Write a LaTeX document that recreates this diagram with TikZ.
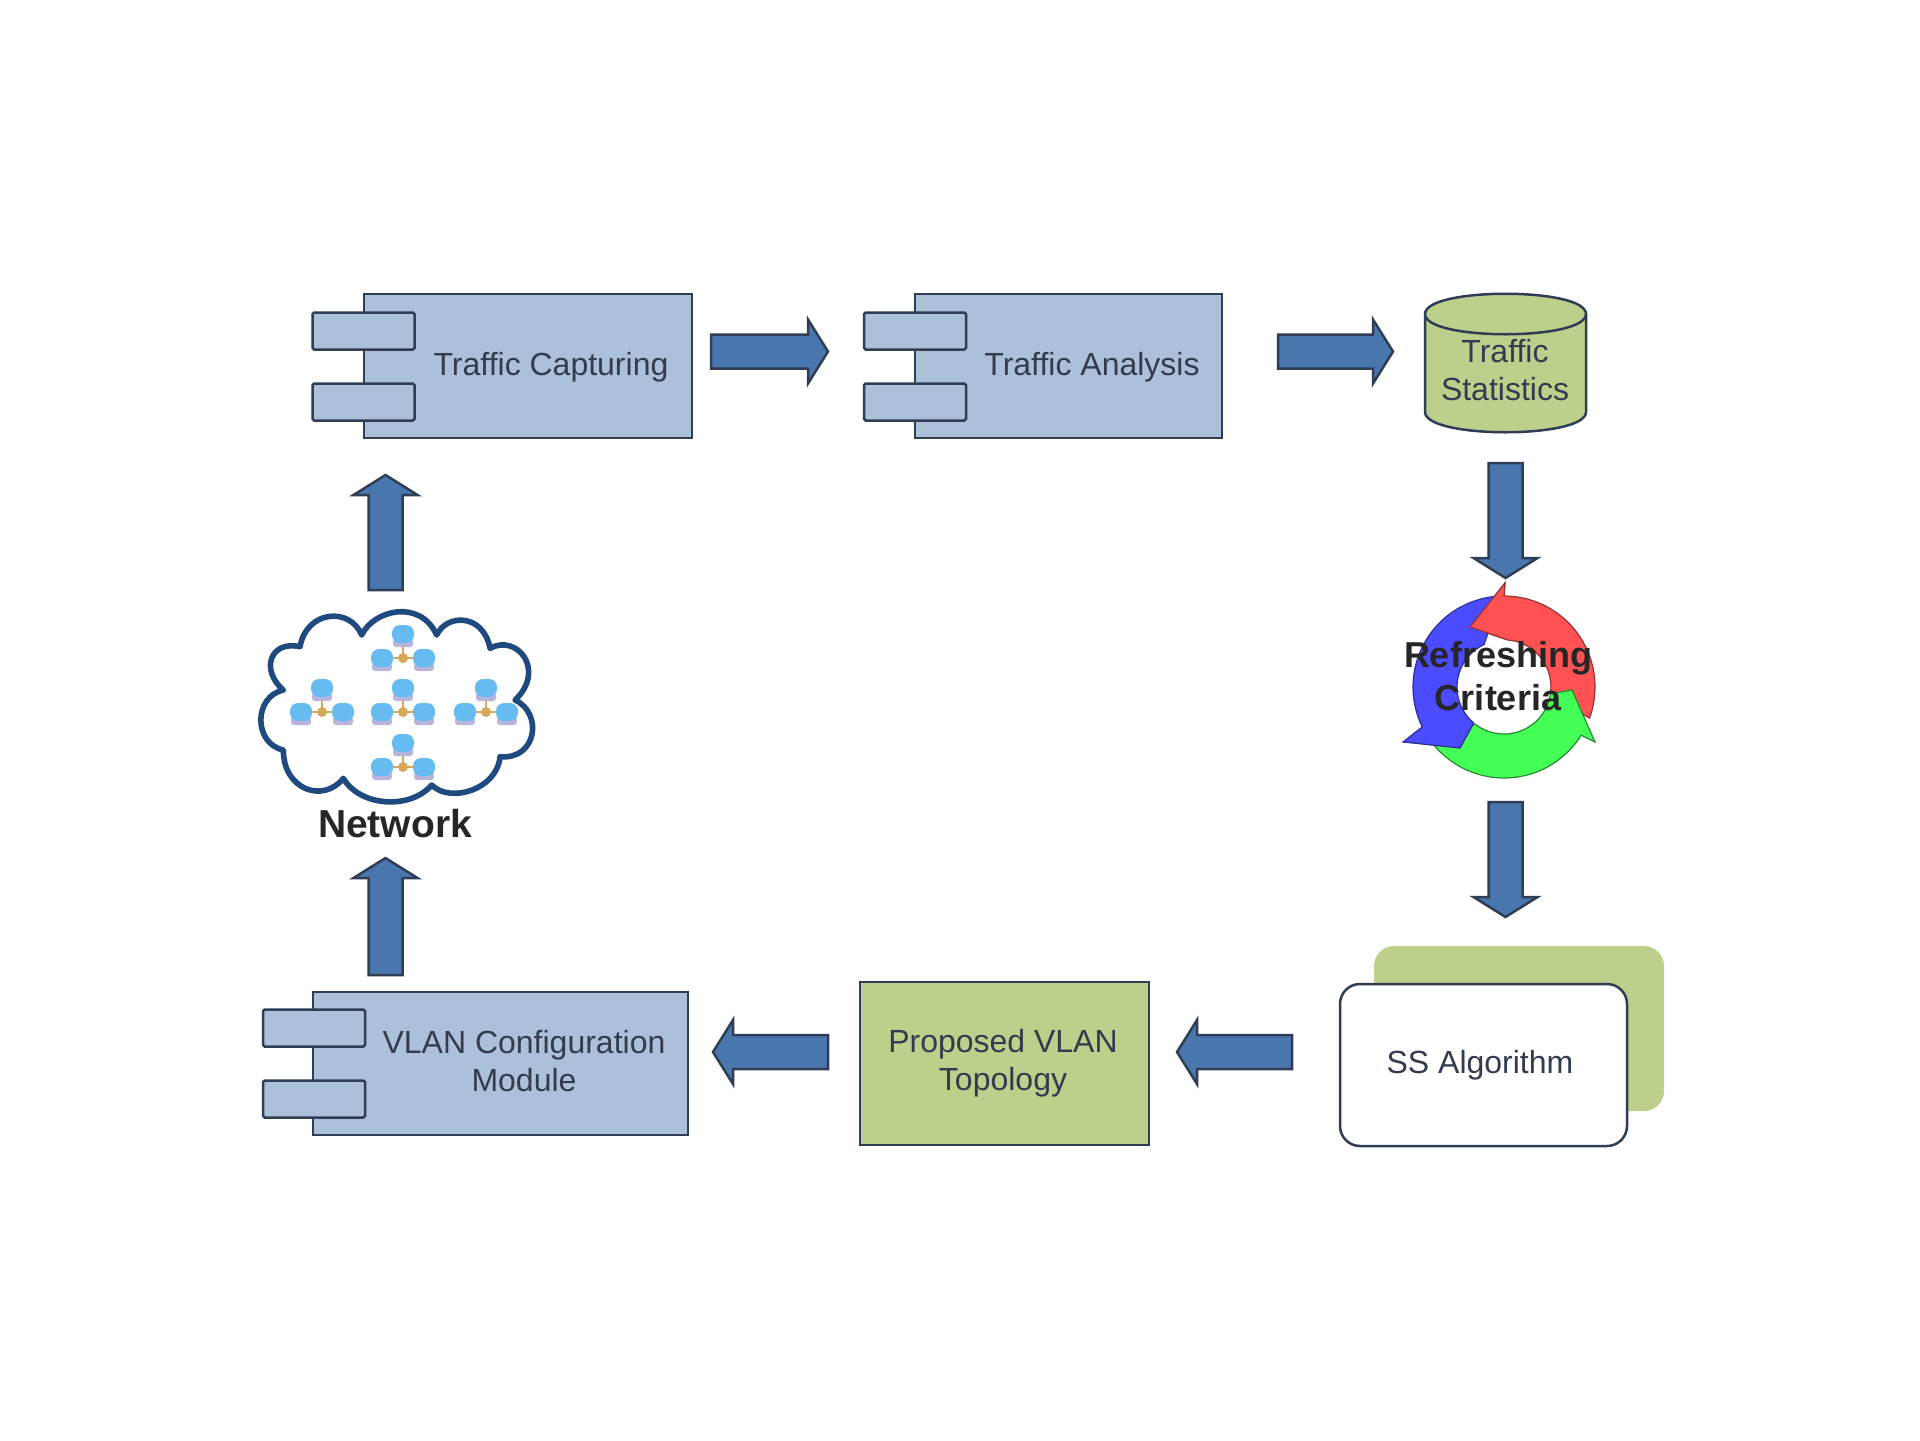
\documentclass[tikz,border=0pt]{standalone}
\usepackage{fontspec}
\setmainfont{Liberation Sans}
\usetikzlibrary{calc}
\definecolor{edgeink}{HTML}{303E55}
\definecolor{compblue}{HTML}{ADC0DA}
\definecolor{flowblue}{HTML}{4A76AE}
\definecolor{leafgreen}{HTML}{BCD08C}
\definecolor{cloudink}{HTML}{1F4A80}
\definecolor{labelink}{HTML}{323C4E}
\definecolor{cycred}{HTML}{FF5252}
\definecolor{cycgreen}{HTML}{44FF55}
\definecolor{cycblue}{HTML}{4B4BFF}
\definecolor{pcblue}{HTML}{66BBF0}
\definecolor{pcbase}{HTML}{B8B4DC}
\definecolor{hubgold}{HTML}{D8A85A}
\tikzset{
  x=0.5pt,y=-0.5pt,
  outline/.style={draw=edgeink,line width=1.25pt,line join=miter,inner sep=0pt,outer sep=0pt},
  compbody/.style={outline,rectangle,fill=compblue},
  comptab/.style={outline,rectangle,fill=compblue,minimum width=51pt,minimum height=18.5pt,rounded corners=0.8pt},
  greenbox/.style={outline,rectangle,fill=leafgreen},
  caption/.style={text=labelink,align=center,inner sep=0pt,font=\fontsize{16}{19}\selectfont},
  boldcap/.style={text=black!85,align=center,inner sep=0pt,font=\fontsize{18}{21.5}\selectfont\bfseries},
  % block arrow drawn as a polygon between two named ends
  blockarrow/.style={draw=edgeink,fill=flowblue,line width=1.25pt,line join=miter,
    to path={
      ($(\tikztostart)!8.5pt!90:(\tikztotarget)$)
      -- ($(\tikztostart)!8.5pt!-90:(\tikztotarget)$)
      -- ($($(\tikztotarget)!10pt!(\tikztostart)$)!8.5pt!90:(\tikztostart)$)
      -- ($($(\tikztotarget)!10pt!(\tikztostart)$)!16pt!90:(\tikztostart)$)
      -- (\tikztotarget)
      -- ($($(\tikztotarget)!10pt!(\tikztostart)$)!16pt!-90:(\tikztostart)$)
      -- ($($(\tikztotarget)!10pt!(\tikztostart)$)!8.5pt!-90:(\tikztostart)$)
      -- cycle
    }},
  pcicon/.pic={
    \fill[pcbase,rounded corners=1.5pt] (-10,5) rectangle (10,13);
    \fill[pcblue,rounded corners=4pt] (-11,-9) rectangle (11,9);
  },
  netstar/.pic={
    \draw[hubgold,line width=1.2pt] (0,0) -- (0,-22) (0,0) -- (-20,0) (0,0) -- (20,0);
    \pic at (0,-24) {pcicon};
    \pic at (-21,0) {pcicon};
    \pic at (21,0) {pcicon};
    \fill[hubgold] (0,0) circle[radius=5];
  }
}
\begin{document}
\begin{tikzpicture}
\useasboundingbox (0,0) rectangle (1920,1440);
\fill[white] (0,0) rectangle (1920,1440);

% upper row of components
\node[compbody,minimum width=164pt,minimum height=72pt] (capture) at (528,366) {};
\node[comptab] (captureA) at (363.5,331) {};
\node[comptab] (captureB) at (363.5,402) {};
\node[caption] (captureText) at (551,367) {Traffic Capturing};

\node[compbody,minimum width=153.5pt,minimum height=72pt] (analysis) at (1068.5,366) {};
\node[comptab] (analysisA) at (915,331) {};
\node[comptab] (analysisB) at (915,402) {};
\node[caption] (analysisText) at (1092,367) {Traffic Analysis};

% statistics store
\draw[outline,fill=leafgreen]
  (1425,314) .. controls (1425,287) and (1586,287) .. (1586,314)
  -- (1586,412) .. controls (1586,439) and (1425,439) .. (1425,412) -- cycle;
\draw[outline] (1425,314) .. controls (1425,341) and (1586,341) .. (1586,314);
\node[caption] (statsText) at (1505,370) {Traffic\\Statistics};

% lower row
\node[compbody,minimum width=187.5pt,minimum height=71.5pt] (vlan) at (500.5,1063.5) {};
\node[comptab] (vlanA) at (314,1028) {};
\node[comptab] (vlanB) at (314,1099) {};
\node[caption] (vlanText) at (524,1061) {VLAN Configuration\\Module};

\node[greenbox,minimum width=144.5pt,minimum height=81.5pt] (topology) at (1004.5,1063.5) {};
\node[caption] (topologyText) at (1003,1063.5) {Proposed VLAN\\Topology};

\node[rectangle,fill=leafgreen,rounded corners=10pt,minimum width=145pt,minimum height=82.5pt,inner sep=0pt] (ssBack) at (1519,1028.5) {};
\node[outline,rectangle,fill=white,rounded corners=10pt,minimum width=143.5pt,minimum height=81pt] (ss) at (1483.5,1065) {};
\node[caption] (ssText) at (1480,1065.5) {SS Algorithm};

% cloud outline
\begin{scope}[shift={(240,590)},x=0.1667pt,y=-0.1667pt]
  \draw[draw=cloudink,fill=white,line width=2.8pt,line join=round]
    (365,135) .. controls (400,60) and (540,25) .. (590,135)
    .. controls (620,70) and (730,70) .. (750,175)
    .. controls (830,130) and (920,240) .. (825,330)
    .. controls (910,370) and (890,510) .. (780,500)
    .. controls (770,600) and (630,640) .. (575,585)
    .. controls (510,660) and (360,650) .. (310,565)
    .. controls (250,640) and (130,600) .. (130,480)
    .. controls (40,460) and (40,320) .. (130,300)
    .. controls (60,240) and (90,150) .. (180,170)
    .. controls (200,60) and (330,50) .. (365,135) -- cycle;
\end{scope}

% small stations inside the cloud
\pic at (403,658) {netstar};
\pic at (322,712) {netstar};
\pic at (403,712) {netstar};
\pic at (486,712) {netstar};
\pic at (403,767) {netstar};
\node[boldcap,font=\fontsize{19.5}{22}\selectfont\bfseries] (networkText) at (395,824) {Network};

% refresh cycle: each arrow lies over the tail of the next one
\begin{scope}[shift={(1504,687)}]
  \draw[fill=cycred,draw=cycred!60!black,line width=0.6pt]
    (20:91) arc[start angle=20,end angle=-90,radius=91]
    -- (1,-104) -- (-34,-60) -- (4,-47) arc[start angle=-85,end angle=8,radius=47] -- cycle;
  \draw[fill=cycgreen,draw=cycgreen!55!black,line width=0.6pt]
    (140:91) arc[start angle=140,end angle=32,radius=91]
    -- (91,55) -- (68,3) -- (8:47) arc[start angle=8,end angle=128,radius=47] -- cycle;
  \draw[fill=cycblue,draw=cycblue!60!black,line width=0.6pt]
    (-95:91) arc[start angle=-95,end angle=-206,radius=91]
    -- (-101,55) -- (-44,61) -- (-230:47) arc[start angle=-230,end angle=-115,radius=47] -- (-14,-60) -- cycle;
  \fill[cycred] (0,-91) -- (1,-104) -- (-34,-60) -- (4,-47) -- (20,-60) -- cycle;
  \draw[cycred!60!black,line width=0.6pt] (0,-91) -- (1,-104) -- (-34,-60) -- (4,-47);
\end{scope}
\node[boldcap] (refreshText) at (1498,676) {Refreshing\\Criteria};

% ends of the block arrows
\coordinate (a1s) at (711,351.5);  \coordinate (a1e) at (828,351.5);
\coordinate (a2s) at (1278,351.5); \coordinate (a2e) at (1393,351.5);
\coordinate (a3s) at (1505.5,463); \coordinate (a3e) at (1505.5,578);
\coordinate (a4s) at (1505.5,802); \coordinate (a4e) at (1505.5,917);
\coordinate (a5s) at (1292,1052);  \coordinate (a5e) at (1177,1052);
\coordinate (a6s) at (828,1052);   \coordinate (a6e) at (713,1052);
\coordinate (a7s) at (385.5,975);  \coordinate (a7e) at (385.5,858);
\coordinate (a8s) at (385.5,590);  \coordinate (a8e) at (385.5,475);

\draw[blockarrow] (a1s) to (a1e);
\draw[blockarrow] (a2s) to (a2e);
\draw[blockarrow] (a3s) to (a3e);
\draw[blockarrow] (a4s) to (a4e);
\draw[blockarrow] (a5s) to (a5e);
\draw[blockarrow] (a6s) to (a6e);
\draw[blockarrow] (a7s) to (a7e);
\draw[blockarrow] (a8s) to (a8e);
\end{tikzpicture}
\end{document}
